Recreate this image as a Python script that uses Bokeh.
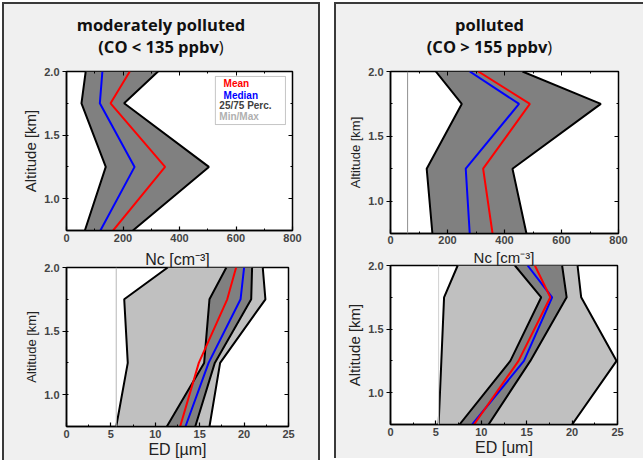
from bokeh.plotting import figure
from bokeh.layouts import column, row
from bokeh.models import (Div, LinearAxis, Span, BoxAnnotation, Label, Range1d,
                          SingleIntervalTicker, PrintfTickFormatter, CustomJSTickFormatter)
from bokeh.embed import file_html
from bokeh.resources import INLINE

# ---------------- data ----------------
altitude = [0.75, 1.25, 1.75, 2.0]

# Nc, moderately polluted (CO < 135 ppbv)
nc_mod_p25 = [65, 139, 53, 68]
nc_mod_median = [120, 241, 118, 127]
nc_mod_mean = [165, 349, 156, 224]
nc_mod_p75 = [235, 504, 204, 324]

# Nc, polluted (CO > 155 ppbv)
nc_pol_p25 = [147, 127, 250, 159]
nc_pol_median = [278, 264, 451, 278]
nc_pol_mean = [358, 325, 489, 308]
nc_pol_p75 = [477, 428, 738, 463]
nc_pol_ref = 60

# ED, moderately polluted
ed_mod_min = [5.6, 6.9, 6.5, 11.4]
ed_mod_p25 = [11.3, 15.5, 16.1, 18.0]
ed_mod_mean = [12.8, 14.9, 18.1, 19.1]
ed_mod_median = [13.4, 16.0, 19.6, 20.0]
ed_mod_p75 = [14.5, 16.7, 20.8, 20.9]
ed_mod_max = [16.1, 17.3, 22.4, 22.1]
ed_mod_ref = 5.6

# ED, polluted
ed_pol_min = [5.3, 5.6, 5.9, 7.4]
ed_pol_p25 = [7.6, 13.2, 16.6, 13.7]
ed_pol_mean = [9.2, 14.1, 17.6, 15.9]
ed_pol_median = [9.0, 14.7, 17.8, 15.1]
ed_pol_p75 = [10.8, 15.4, 19.4, 18.9]
ed_pol_max = [20.0, 24.9, 21.0, 20.6]
ed_pol_ref = 5.3

legend_labels = ["Mean", "Median", "25/75 Perc.", "Min/Max"]
legend_colors = ["#ff0000", "#0000ff", "#404040", "#b0b0b0"]

NC_LABEL = "Nc [cm\u207b\u00b3]"

DARK = "#808080"
LIGHT = "#c0c0c0"
PANEL_BG = "#f0f0f0"
TICK_FONT = "Liberation Sans"
EMPTY = CustomJSTickFormatter(code="return ''")


def make_fig(fw, fh, mbl, mbr, mbt, mbb, xmax, xint, xlabel, lab_size, xlab_size,
             top_label=None, top_size="15px", top_lh=1.0, mirror_top=True, xstand=3):
    p = figure(frame_width=fw, frame_height=fh, output_backend="svg",
               toolbar_location=None, x_range=Range1d(0, xmax),
               y_range=Range1d(0.75, 2.0), min_border_left=mbl,
               min_border_right=mbr, min_border_top=mbt, min_border_bottom=mbb)
    p.border_fill_color = PANEL_BG
    p.background_fill_color = "white"
    p.outline_line_color = "black"
    p.outline_line_width = 1.5
    p.grid.visible = False
    p.xaxis.ticker = SingleIntervalTicker(interval=xint, num_minor_ticks=2)
    p.yaxis.ticker = SingleIntervalTicker(interval=0.5, num_minor_ticks=2)
    p.yaxis.formatter = PrintfTickFormatter(format="%.1f")
    for ax in p.axis:
        ax.major_tick_in = 4
        ax.major_tick_out = 0
        ax.minor_tick_in = 2
        ax.minor_tick_out = 0
        ax.axis_line_width = 1.5
        ax.major_tick_line_width = 1.2
        ax.major_label_text_font = TICK_FONT
        ax.major_label_text_font_style = "bold"
        ax.major_label_text_font_size = "11px"
        ax.axis_label_text_font = TICK_FONT
        ax.axis_label_text_font_style = "normal"
        ax.axis_label_text_color = "#222222"
    p.yaxis.major_tick_in = 0
    p.yaxis.major_tick_out = 4
    p.xaxis.major_label_standoff = xstand
    p.yaxis.major_label_standoff = 3
    if xlabel:
        p.xaxis.axis_label = xlabel
        p.xaxis.axis_label_text_font_size = xlab_size
        p.xaxis.axis_label_standoff = 0
    p.yaxis.axis_label = "Altitude [km]"
    p.yaxis.axis_label_text_font_size = lab_size
    p.yaxis.axis_label_standoff = 2
    sides = [("right", 0.5)]
    if mirror_top:
        sides.append(("above", xint))
    for side, interval in sides:
        ax = LinearAxis(ticker=SingleIntervalTicker(interval=interval, num_minor_ticks=2),
                        formatter=EMPTY, major_tick_in=4,
                        major_tick_out=0, minor_tick_in=2, minor_tick_out=0,
                        axis_line_color=None, major_label_standoff=0)
        p.add_layout(ax, side)
    if top_label:
        p.title.text = top_label
        p.title.align = "center"
        p.title.text_font = TICK_FONT
        p.title.text_font_style = "normal"
        p.title.text_font_size = top_size
        p.title.text_line_height = top_lh
        p.title.text_color = "#222222"
        p.title.standoff = 0
    return p


def band(p, lo, hi, color):
    p.harea(x1=lo, x2=hi, y=altitude, fill_color=color, fill_alpha=1)


def outline(p, xs):
    p.line(x=xs, y=altitude, line_color="black", line_width=2)


def centre_lines(p, mean, median):
    p.line(x=median, y=altitude, line_color="#0000ff", line_width=2)
    p.line(x=mean, y=altitude, line_color="#ff0000", line_width=2)


# ---------------- top-left ----------------
p_tl = make_fig(226, 159, 62, 16, 7, 18, 800, 200, None, "15px", "15px")
band(p_tl, nc_mod_p25, nc_mod_p75, DARK)
outline(p_tl, nc_mod_p25)
outline(p_tl, nc_mod_p75)
centre_lines(p_tl, nc_mod_mean, nc_mod_median)
p_tl.add_layout(BoxAnnotation(left=527, right=775, bottom=1.583, top=1.961,
                              fill_color="white", fill_alpha=1,
                              line_color="#404040", line_width=1))
leg_x = [556, 556, 541, 541]
leg_y = [1.906, 1.811, 1.733, 1.646]
for t, c, lx, ly in zip(legend_labels, legend_colors, leg_x, leg_y):
    p_tl.add_layout(Label(x=lx, y=ly, text=t, text_color=c, text_font=TICK_FONT,
                          text_font_style="bold", text_font_size="10px",
                          text_baseline="middle"))

# ---------------- bottom-left ----------------
p_bl = make_fig(222, 159, 62, 20, 18, 30, 25, 5, "ED [\u00b5m]", "13px", "16px",
                top_label=NC_LABEL, top_size="16px", mirror_top=False)
p_bl.add_layout(Span(location=ed_mod_ref, dimension="height", line_color="#b8b8b8",
                     line_width=1))
band(p_bl, ed_mod_min, ed_mod_max, LIGHT)
band(p_bl, ed_mod_p25, ed_mod_p75, DARK)
for xs in (ed_mod_min, ed_mod_max, ed_mod_p25, ed_mod_p75):
    outline(p_bl, xs)
centre_lines(p_bl, ed_mod_mean, ed_mod_median)

# ---------------- top-right ----------------
p_tr = make_fig(228, 162, 52, 17, 7, 13, 800, 200, None, "13px", "15px", xstand=2)
p_tr.add_layout(Span(location=nc_pol_ref, dimension="height", line_color="#909090",
                     line_width=1))
band(p_tr, nc_pol_p25, nc_pol_p75, DARK)
outline(p_tr, nc_pol_p25)
outline(p_tr, nc_pol_p75)
centre_lines(p_tr, nc_pol_mean, nc_pol_median)

# ---------------- bottom-right ----------------
p_br = make_fig(227, 159, 54, 16, 11, 30, 25, 5, "ED [um]", "15px", "16px",
                top_label=NC_LABEL, top_size="15px", top_lh=0.7, mirror_top=False)
p_br.add_layout(Span(location=ed_pol_ref, dimension="height", line_color="#d0d0d0",
                     line_width=1))
band(p_br, ed_pol_min, ed_pol_max, LIGHT)
band(p_br, ed_pol_p25, ed_pol_p75, DARK)
for xs in (ed_pol_min, ed_pol_max, ed_pol_p25, ed_pol_p75):
    outline(p_br, xs)
centre_lines(p_br, ed_pol_mean, ed_pol_median)

# ---------------- titles & layout ----------------
title_css = ("font-family:'Open Sans',sans-serif;font-weight:bold;font-size:16.5px;"
             "line-height:22px;text-align:center;color:#111;padding-top:5px;")


def title_div(l1, l2, width):
    l2 = l2 + "<span style=\"font-weight:normal\">)</span>"
    return Div(text=f"<div style=\"{title_css}width:{width}px\">{l1}<br>{l2}</div>",
               width=width, height=50, styles={"background-color": PANEL_BG})


left = column(title_div("moderately polluted", "(CO &lt; 135 ppbv", 304), p_tl, p_bl,
              spacing=0,
              styles={"border-left": "2px solid #3a3a3a", "border-top": "2px solid #3a3a3a",
                      "border-right": "2px solid #3a3a3a",
                      "background-color": PANEL_BG})
right = column(title_div("polluted", "(CO &gt; 155 ppbv", 297), p_tr, p_br,
               spacing=0,
               styles={"border-left": "2px solid #3a3a3a", "border-top": "2px solid #3a3a3a",
                       "background-color": PANEL_BG})
page = row(left, right, spacing=14, margin=(2, 0, 0, 2))

open("out.html", "w").write(file_html(page, INLINE))
